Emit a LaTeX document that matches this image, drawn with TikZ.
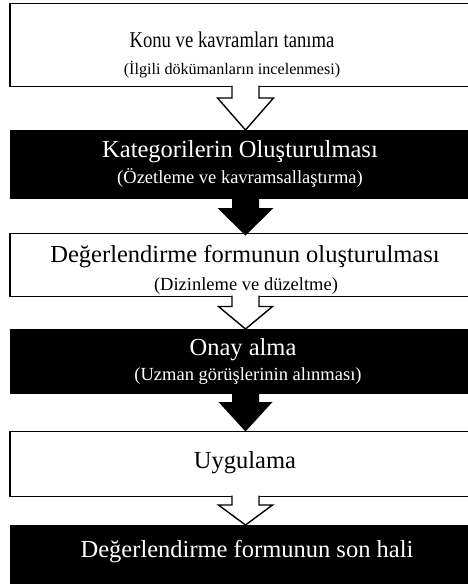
\documentclass[tikz,border=0pt]{standalone}
\usepackage{fontspec}
\setmainfont{Liberation Serif}
\newfontfamily\condserif[FakeStretch=0.83]{Liberation Serif}
\usetikzlibrary{calc}
\begin{document}
\begin{tikzpicture}[x=1pt,y=-1pt,
  whitebox/.style={draw=black, line width=1.4pt, fill=white, inner sep=0pt, outer sep=0pt, minimum width=471pt},
  blackbox/.style={fill=black, draw=none, inner sep=0pt, outer sep=0pt, minimum width=471pt},
  ttl/.style={font=\fontsize{24.5}{28}\selectfont, anchor=base, inner sep=0pt},
  sbt/.style={font=\fontsize{18.5}{22}\selectfont, anchor=base, inner sep=0pt},
  ttlA/.style={font=\condserif\fontsize{22.5}{26}\selectfont, anchor=base, inner sep=0pt},
  sbtA/.style={font=\fontsize{16.1}{19}\selectfont, anchor=base, inner sep=0pt},
  hollow/.style={draw=black, line width=1.4pt, fill=white, line join=miter},
  solid/.style={fill=black, draw=none}
]
\useasboundingbox (0,0) rectangle (468,584);
\clip (0,0) rectangle (468,584);
% boxes
\node[whitebox, minimum height=83pt] (b1) at (245.5,45) {};
\node[blackbox, minimum height=69pt] (b2) at (245.5,164.5) {};
\node[whitebox, minimum height=63pt] (b3) at (245.5,265) {};
\node[blackbox, minimum height=65pt] (b4) at (245.5,361.5) {};
\node[whitebox, minimum height=65pt] (b5) at (245.5,464) {};
\node[blackbox, minimum height=70pt] (b6) at (245.5,560) {};
% texts
\node[ttlA] (t1) at (232,47) {Konu ve kavramları tanıma};
\node[sbtA] (s1) at (232,74) {(İlgili dökümanların incelenmesi)};
\node[ttl, text=white] (t2) at (240,157) {Kategorilerin Oluşturulması};
\node[sbt, text=white] (s2) at (240,183) {(Özetleme ve kavramsallaştırma)};
\node[ttl] (t3) at (245,262) {Değerlendirme formunun oluşturulması};
\node[sbt] (s3) at (246,290) {(Dizinleme ve düzeltme)};
\node[ttl, text=white] (t4) at (243,355) {Onay alma};
\node[sbt, text=white] (s4) at (248,380) {(Uzman görüşlerinin alınması)};
\node[ttl] (t5) at (245,468) {Uygulama};
\node[ttl, text=white] (t6) at (247,557) {Değerlendirme formunun son hali};
% arrows
\draw[hollow] ($(b1.south)+(-13.5,-1)$) -- ($(b1.south)+(-13.5,11.5)$) -- ($(b1.south)+(-28,11.5)$)
  -- (b1.south |- b2.north) -- ($(b1.south)+(28,11.5)$) -- ($(b1.south)+(13.5,11.5)$) -- ($(b1.south)+(13.5,-1)$);
\fill[solid] ($(b2.south)+(-13.5,-1)$) -- ($(b2.south)+(-13.5,9)$) -- ($(b2.south)+(-28,9)$)
  -- ($(b2.south |- b3.north)+(0,2)$) -- ($(b2.south)+(28,9)$) -- ($(b2.south)+(13.5,9)$) -- ($(b2.south)+(13.5,-1)$) -- cycle;
\draw[hollow] ($(b3.south)+(-13.5,-1)$) -- ($(b3.south)+(-13.5,10)$) -- ($(b3.south)+(-27,10)$)
  -- (b3.south |- b4.north) -- ($(b3.south)+(27,10)$) -- ($(b3.south)+(13.5,10)$) -- ($(b3.south)+(13.5,-1)$);
\fill[solid] ($(b4.south)+(-13.5,-1)$) -- ($(b4.south)+(-13.5,8)$) -- ($(b4.south)+(-27,8)$)
  -- (b4.south |- b5.north) -- ($(b4.south)+(27,8)$) -- ($(b4.south)+(13.5,8)$) -- ($(b4.south)+(13.5,-1)$) -- cycle;
\draw[hollow] ($(b5.south)+(-13.5,-1)$) -- ($(b5.south)+(-13.5,8.5)$) -- ($(b5.south)+(-27,8.5)$)
  -- (b5.south |- b6.north) -- ($(b5.south)+(27,8.5)$) -- ($(b5.south)+(13.5,8.5)$) -- ($(b5.south)+(13.5,-1)$);
\end{tikzpicture}
\end{document}
